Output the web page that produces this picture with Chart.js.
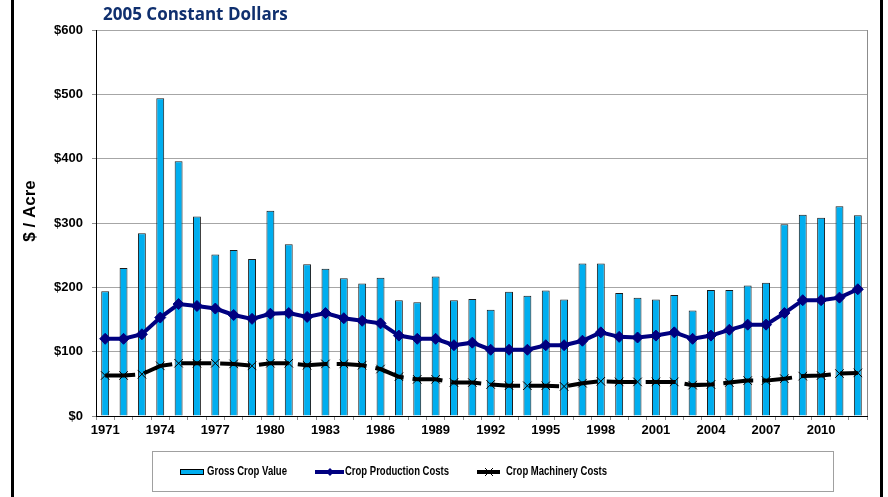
<!DOCTYPE html>
<html>
<head>
<meta charset="utf-8">
<script src="https://cdn.jsdelivr.net/npm/chart.js@4"></script>
<style>
  html, body { margin: 0; padding: 0; background: #fff; }
  #wrap { position: relative; width: 888px; height: 497px; }
  #wrap:before, #wrap:after {
    content: ''; position: absolute; top: 0; bottom: 0; width: 3px; background: #000;
  }
  #wrap:before { left: 11px; }
  #wrap:after { left: 880px; }
</style>
</head>
<body>
<div id="wrap"><canvas id="chart" width="888" height="497"></canvas></div>
<script>
// years 1971..2012
const years = ['1971','1972','1973','1974','1975','1976','1977','1978','1979','1980',
  '1981','1982','1983','1984','1985','1986','1987','1988','1989','1990',
  '1991','1992','1993','1994','1995','1996','1997','1998','1999','2000',
  '2001','2002','2003','2004','2005','2006','2007','2008','2009','2010',
  '2011','2012'];

const grossCropValue = [194, 230, 284, 494, 396, 310, 251, 258, 244, 319,
  267, 236, 229, 214, 206, 215, 180, 177, 217, 180,
  182, 165, 193, 187, 195, 181, 237, 237, 191, 184,
  181, 188, 164, 196, 196, 203, 207, 298, 313, 308,
  326, 312];

const cropProductionCosts = [120, 120, 127, 153, 174, 171, 167, 157, 151, 159,
  160, 154, 160, 152, 148, 144, 125, 120, 120, 110,
  114, 103, 103, 103, 110, 110, 117, 130, 123, 122,
  125, 130, 120, 125, 134, 142, 142, 160, 180, 180,
  184, 197];

const cropMachineryCosts = [63, 63, 65, 78, 82, 82, 82, 81, 78, 82,
  82, 79, 81, 81, 79, 73, 61, 57, 57, 52,
  52, 49, 47, 47, 47, 46, 51, 54, 53, 53,
  53, 53, 48, 49, 52, 55, 55, 58, 62, 63,
  66, 67];

const yTicks = [0, 100, 200, 300, 400, 500, 600];

const barColor = '#00aeef';
const prodColor = '#000080';
const machColor = '#000000';

// title, y-axis title, plot border and legend
const decorations = {
  id: 'decorations',
  afterDraw(chart) {
    const ctx = chart.ctx;
    const a = chart.chartArea;
    ctx.save();
    // plot area right border
    ctx.strokeStyle = '#8c8c8c';
    ctx.lineWidth = 1;
    ctx.beginPath();
    ctx.moveTo(a.right + 0.5, a.top);
    ctx.lineTo(a.right + 0.5, a.bottom);
    ctx.stroke();

    // chart title
    ctx.fillStyle = '#0f2f6e';
    ctx.font = 'bold 17px "Open Sans", sans-serif';
    ctx.textBaseline = 'alphabetic';
    ctx.textAlign = 'left';
    ctx.fillText('2005 Constant Dollars', 103, 20, 188);

    // y axis title
    ctx.save();
    ctx.translate(30, 211);
    ctx.rotate(-Math.PI / 2);
    ctx.fillStyle = '#000';
    ctx.font = 'bold 17px "Liberation Sans", Arial, sans-serif';
    ctx.textAlign = 'center';
    ctx.textBaseline = 'middle';
    ctx.fillText('$ / Acre', 0, 0);
    ctx.restore();

    // legend box
    ctx.strokeStyle = '#a0a0a0';
    ctx.lineWidth = 1;
    ctx.strokeRect(152.5, 451.5, 681, 40);
    const ly = 472;
    ctx.font = 'bold 12px "Liberation Sans Narrow", "Liberation Sans", Arial, sans-serif';
    ctx.fillStyle = '#000';
    ctx.textAlign = 'left';
    ctx.textBaseline = 'middle';
    // bar swatch
    ctx.fillStyle = barColor;
    ctx.fillRect(180, 469, 24, 6);
    ctx.strokeStyle = '#000';
    ctx.strokeRect(180.5, 469.5, 23, 5);
    ctx.fillStyle = '#000';
    ctx.fillText('Gross Crop Value', 207, ly, 80);
    // production swatch
    ctx.strokeStyle = prodColor;
    ctx.lineWidth = 4;
    ctx.beginPath();
    ctx.moveTo(315, ly); ctx.lineTo(344, ly);
    ctx.stroke();
    ctx.fillStyle = prodColor;
    ctx.beginPath();
    ctx.moveTo(330, ly - 4); ctx.lineTo(334, ly); ctx.lineTo(330, ly + 4); ctx.lineTo(326, ly);
    ctx.closePath(); ctx.fill();
    ctx.fillStyle = '#000';
    ctx.fillText('Crop Production Costs', 345, ly, 104);
    // machinery swatch
    ctx.strokeStyle = machColor;
    ctx.lineWidth = 4;
    ctx.beginPath();
    ctx.moveTo(477, ly); ctx.lineTo(500, ly);
    ctx.stroke();
    ctx.lineWidth = 1;
    ctx.beginPath();
    ctx.moveTo(485, ly - 4); ctx.lineTo(493, ly + 4);
    ctx.moveTo(485, ly + 4); ctx.lineTo(493, ly - 4);
    ctx.stroke();
    ctx.fillText('Crop Machinery Costs', 506, ly, 101);
    ctx.restore();
  }
};

document.addEventListener('DOMContentLoaded', function () {
  const ctx = document.getElementById('chart').getContext('2d');
  new Chart(ctx, {
    data: {
      labels: years,
      datasets: [
        {
          type: 'bar',
          label: 'Gross Crop Value',
          data: grossCropValue,
          backgroundColor: barColor,
          borderColor: '#1a1a1a',
          borderWidth: 1,
          barPercentage: 0.43,
          categoryPercentage: 1,
          order: 3
        },
        {
          type: 'line',
          label: 'Crop Production Costs',
          data: cropProductionCosts,
          borderColor: prodColor,
          backgroundColor: prodColor,
          borderWidth: 4,
          pointStyle: 'rectRot',
          pointRadius: 5.5,
          pointBorderWidth: 1,
          tension: 0,
          order: 2
        },
        {
          type: 'line',
          label: 'Crop Machinery Costs',
          data: cropMachineryCosts,
          borderColor: machColor,
          backgroundColor: machColor,
          borderWidth: 4,
          borderDash: [30, 9],
          pointStyle: 'crossRot',
          pointRadius: 6,
          pointBorderWidth: 1,
          tension: 0,
          order: 1
        }
      ]
    },
    options: {
      responsive: false,
      animation: false,
      layout: { padding: { left: 0, top: 30, right: 21, bottom: 51 } },
      plugins: {
        legend: { display: false },
        tooltip: { enabled: false }
      },
      scales: {
        x: {
          offset: true,
          grid: {
            offset: true,
            drawOnChartArea: false,
            drawTicks: true,
            tickLength: 4,
            tickColor: '#8c8c8c'
          },
          border: { color: '#000', width: 1 },
          ticks: {
            autoSkip: false,
            maxRotation: 0,
            padding: 3,
            color: '#000',
            font: { family: '"Liberation Sans", Arial, sans-serif', size: 13, weight: 'bold' },
            callback: function (v, i) { return i % 3 === 0 ? years[i] : ''; }
          },
          afterFit: function (scale) { scale.height = 30; }
        },
        y: {
          min: 0,
          max: 600,
          afterBuildTicks: function (scale) { scale.ticks = yTicks.map(v => ({ value: v })); },
          grid: {
            color: '#a6a6a6',
            lineWidth: 1,
            tickLength: 4,
            tickColor: '#8c8c8c'
          },
          border: { color: '#000', width: 1 },
          ticks: {
            padding: 9,
            color: '#000',
            font: { family: '"Liberation Sans", Arial, sans-serif', size: 13, weight: 'bold' },
            callback: function (v) { return '$' + v; }
          },
          afterFit: function (scale) { scale.width = 96; }
        }
      }
    },
    plugins: [decorations]
  });
});
</script>
</body>
</html>
